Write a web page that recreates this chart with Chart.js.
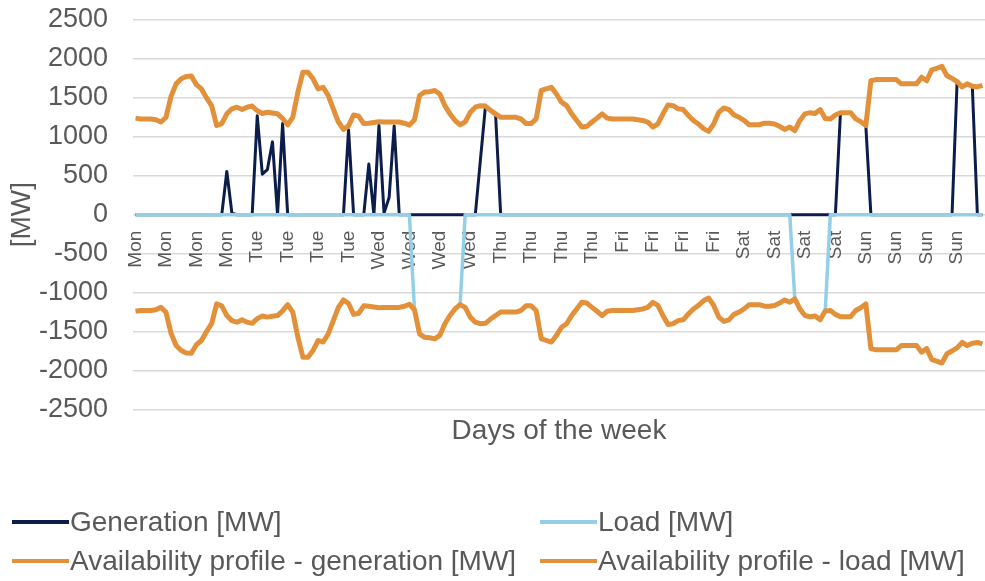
<!DOCTYPE html>
<html>
<head>
<meta charset="utf-8">
<script src="https://cdn.jsdelivr.net/npm/chart.js@4.4.1/dist/chart.umd.min.js"></script>
<style>
  html, body { margin: 0; padding: 0; background: #fff; }
  #wrap { position: relative; width: 985px; height: 581px; }
  #legend {
    position: absolute; left: 12px; top: 502px;
    display: grid; grid-template-columns: 528px auto;
    font-family: "Liberation Sans", Arial, sans-serif; font-size: 28px; color: #595959;
  }
  .item { display: flex; align-items: center; height: 39px; white-space: nowrap; }
  .swatch { width: 57px; height: 4px; margin-right: 1px; }
</style>
</head>
<body>
<div id="wrap">
  <canvas id="chart" width="985" height="581"></canvas>
  <div id="legend"></div>
</div>
<script>
// hourly values over one week, 24 per day
const days = ['Mon', 'Tue', 'Wed', 'Thu', 'Fri', 'Sat', 'Sun'];
const yTicks = [-2500, -2000, -1500, -1000, -500, 0, 500, 1000, 1500, 2000, 2500];

const generation = [
  0, 0, 0, 0, 0, 0, 0, 0, 0, 0, 0, 0, 0, 0, 0, 0, 0, 0, 555, 20, 0, 0, 0, 0,
  1270, 520, 580, 935, 0, 1170, 0, 0, 0, 0, 0, 0, 0, 0, 0, 0, 0, 0, 1090, 0, 0, 0, 650, 0,
  1145, 20, 220, 1140, 0, 0, 0, 0, 0, 0, 0, 0, 0, 0, 0, 0, 0, 0, 0, 0, 700, 1395, 1340, 1280,
  0, 0, 0, 0, 0, 0, 0, 0, 0, 0, 0, 0, 0, 0, 0, 0, 0, 0, 0, 0, 0, 0, 0, 0,
  0, 0, 0, 0, 0, 0, 0, 0, 0, 0, 0, 0, 0, 0, 0, 0, 0, 0, 0, 0, 0, 0, 0, 0,
  0, 0, 0, 0, 0, 0, 0, 0, 0, 0, 0, 0, 0, 0, 0, 0, 0, 0, 0, 1310, 1310, 1310, 1230, 1195,
  1145, 0, 0, 0, 0, 0, 0, 0, 0, 0, 0, 0, 0, 0, 0, 0, 0, 0, 1710, 1640, 1680, 1650, 0, 0
];

const load = [
  0, 0, 0, 0, 0, 0, 0, 0, 0, 0, 0, 0, 0, 0, 0, 0, 0, 0, 0, 0, 0, 0, 0, 0,
  0, 0, 0, 0, 0, 0, 0, 0, 0, 0, 0, 0, 0, 0, 0, 0, 0, 0, 0, 0, 0, 0, 0, 0,
  0, 0, 0, 0, 0, 0, 0, -1220, -1530, -1575, -1580, -1595, -1550, -1400, -1295, -1210, -1155, 0, 0, 0, 0, 0, 0, 0,
  0, 0, 0, 0, 0, 0, 0, 0, 0, 0, 0, 0, 0, 0, 0, 0, 0, 0, 0, 0, 0, 0, 0, 0,
  0, 0, 0, 0, 0, 0, 0, 0, 0, 0, 0, 0, 0, 0, 0, 0, 0, 0, 0, 0, 0, 0, 0, 0,
  0, 0, 0, 0, 0, 0, 0, 0, 0, 0, -1080, -1210, -1295, -1310, -1300, -1350, -1235, 0, 0, 0, 0, 0, 0, 0,
  0, 0, 0, 0, 0, 0, 0, 0, 0, 0, 0, 0, 0, 0, 0, 0, 0, 0, 0, 0, 0, 0, 0, 0
];

const availGen = [
  1240, 1230, 1230, 1230, 1220, 1190, 1250, 1520, 1680, 1745, 1775, 1780, 1670, 1615, 1500, 1400, 1145, 1170, 1295, 1360, 1380, 1350, 1380, 1395,
  1335, 1300, 1315, 1305, 1295, 1235, 1155, 1250, 1570, 1830, 1830, 1745, 1615, 1635, 1530, 1360, 1190, 1095, 1140, 1280, 1265, 1170, 1175, 1185,
  1195, 1190, 1190, 1190, 1190, 1175, 1150, 1220, 1530, 1575, 1580, 1595, 1550, 1400, 1295, 1210, 1155, 1190, 1315, 1380, 1400, 1395, 1340, 1295,
  1250, 1250, 1250, 1250, 1230, 1170, 1170, 1230, 1595, 1615, 1635, 1550, 1445, 1400, 1295, 1210, 1125, 1135, 1190, 1240, 1295, 1240, 1230, 1230,
  1230, 1230, 1230, 1220, 1210, 1190, 1125, 1165, 1295, 1410, 1400, 1360, 1350, 1275, 1210, 1165, 1105, 1070, 1165, 1315, 1370, 1350, 1280, 1250,
  1210, 1155, 1155, 1155, 1175, 1175, 1165, 1135, 1095, 1125, 1080, 1210, 1295, 1310, 1300, 1350, 1235, 1230, 1280, 1310, 1310, 1310, 1230, 1195,
  1145, 1720, 1735, 1735, 1735, 1735, 1735, 1680, 1680, 1680, 1680, 1765, 1720, 1860, 1880, 1905, 1785, 1750, 1710, 1640, 1680, 1650, 1640, 1660
];

const availLoad = [
  -1240, -1230, -1230, -1230, -1220, -1190, -1250, -1520, -1680, -1745, -1775, -1780, -1670, -1615, -1500, -1400, -1145, -1170, -1295, -1360, -1380, -1350, -1380, -1395,
  -1335, -1300, -1315, -1305, -1295, -1235, -1155, -1250, -1570, -1830, -1830, -1745, -1615, -1635, -1530, -1360, -1190, -1095, -1140, -1280, -1265, -1170, -1175, -1185,
  -1195, -1190, -1190, -1190, -1190, -1175, -1150, -1220, -1530, -1575, -1580, -1595, -1550, -1400, -1295, -1210, -1155, -1190, -1315, -1380, -1400, -1395, -1340, -1295,
  -1250, -1250, -1250, -1250, -1230, -1170, -1170, -1230, -1595, -1615, -1635, -1550, -1445, -1400, -1295, -1210, -1125, -1135, -1190, -1240, -1295, -1240, -1230, -1230,
  -1230, -1230, -1230, -1220, -1210, -1190, -1125, -1165, -1295, -1410, -1400, -1360, -1350, -1275, -1210, -1165, -1105, -1070, -1165, -1315, -1370, -1350, -1280, -1250,
  -1210, -1155, -1155, -1155, -1175, -1175, -1165, -1135, -1095, -1125, -1080, -1210, -1295, -1310, -1300, -1350, -1235, -1230, -1280, -1310, -1310, -1310, -1230, -1195,
  -1145, -1720, -1735, -1735, -1735, -1735, -1735, -1680, -1680, -1680, -1680, -1765, -1720, -1860, -1880, -1905, -1785, -1750, -1710, -1640, -1680, -1650, -1640, -1660
];

const hourLabels = days.flatMap(d => Array(24).fill(d));

const FONT = '"Liberation Sans", Arial, sans-serif';
const GREY = '#595959';
const NAVY = '#0C1D4B';
const LIGHT_BLUE = '#93CFE6';
const ORANGE = '#E3903A';

// legend drawn as html so the two columns line up like the original
const htmlLegend = {
  id: 'htmlLegend',
  afterUpdate(chart) {
    const box = document.getElementById('legend');
    box.innerHTML = '';
    const items = chart.options.plugins.legend.labels.generateLabels(chart);
    items.sort((a, b) => a.datasetIndex - b.datasetIndex);
    items.forEach(item => {
      const row = document.createElement('div');
      row.className = 'item';
      const sw = document.createElement('span');
      sw.className = 'swatch';
      sw.style.background = item.strokeStyle;
      const txt = document.createElement('span');
      txt.textContent = item.text;
      row.appendChild(sw);
      row.appendChild(txt);
      box.appendChild(row);
    });
  }
};

function lineSet(label, data, color, width, order) {
  return {
    label: label,
    data: data,
    borderColor: color,
    backgroundColor: color,
    borderWidth: width,
    pointRadius: 0,
    tension: 0,
    fill: false,
    borderJoinStyle: 'round',
    order: order
  };
}

new Chart(document.getElementById('chart'), {
  type: 'line',
  data: {
    labels: hourLabels,
    datasets: [
      lineSet('Generation [MW]', generation, NAVY, 3, 4),
      lineSet('Load [MW]', load, LIGHT_BLUE, 3.5, 3),
      lineSet('Availability profile - generation [MW]', availGen, ORANGE, 5, 2),
      lineSet('Availability profile - load [MW]', availLoad, ORANGE, 5, 1)
    ]
  },
  options: {
    responsive: false,
    animation: false,
    layout: { padding: { top: 20, bottom: 133, left: 0, right: 0 } },
    plugins: {
      legend: { display: false },
      tooltip: { enabled: false }
    },
    scales: {
      x: {
        type: 'category',
        position: { y: 0 },
        offset: true,
        grid: { display: false, drawTicks: false },
        border: { display: false },
        ticks: {
          autoSkip: false,
          minRotation: 90,
          maxRotation: 90,
          padding: 16,
          color: GREY,
          font: { family: FONT, size: 19 },
          callback: (v, i) => (i % 6 === 0 ? hourLabels[i] : '')
        },
        afterFit: s => { s.height = 0; s.paddingLeft = 0; s.paddingRight = 0; s.paddingTop = 0; s.paddingBottom = 0; }
      },
      x2: {
        type: 'category',
        position: 'bottom',
        offset: true,
        grid: { display: false, drawTicks: false },
        border: { display: false },
        ticks: { display: false },
        title: {
          display: true,
          text: 'Days of the week',
          color: GREY,
          font: { family: FONT, size: 28 },
          padding: { top: 5, bottom: 0 }
        }
      },
      y: {
        min: yTicks[0],
        max: yTicks[yTicks.length - 1],
        afterBuildTicks: s => { s.ticks = yTicks.map(v => ({ value: v })); },
        ticks: {
          padding: 25,
          color: GREY,
          font: { family: FONT, size: 27 },
          callback: v => String(v)
        },
        grid: { color: '#D9D9D9', lineWidth: 1.5, drawTicks: false },
        border: { display: false },
        title: {
          display: true,
          text: '[MW]',
          color: GREY,
          font: { family: FONT, size: 28 },
          padding: { top: 5, bottom: 0 }
        },
        afterFit: s => { s.width = 133; s.paddingTop = 0; s.paddingBottom = 0; }
      }
    }
  },
  plugins: [htmlLegend]
});
</script>
</body>
</html>
